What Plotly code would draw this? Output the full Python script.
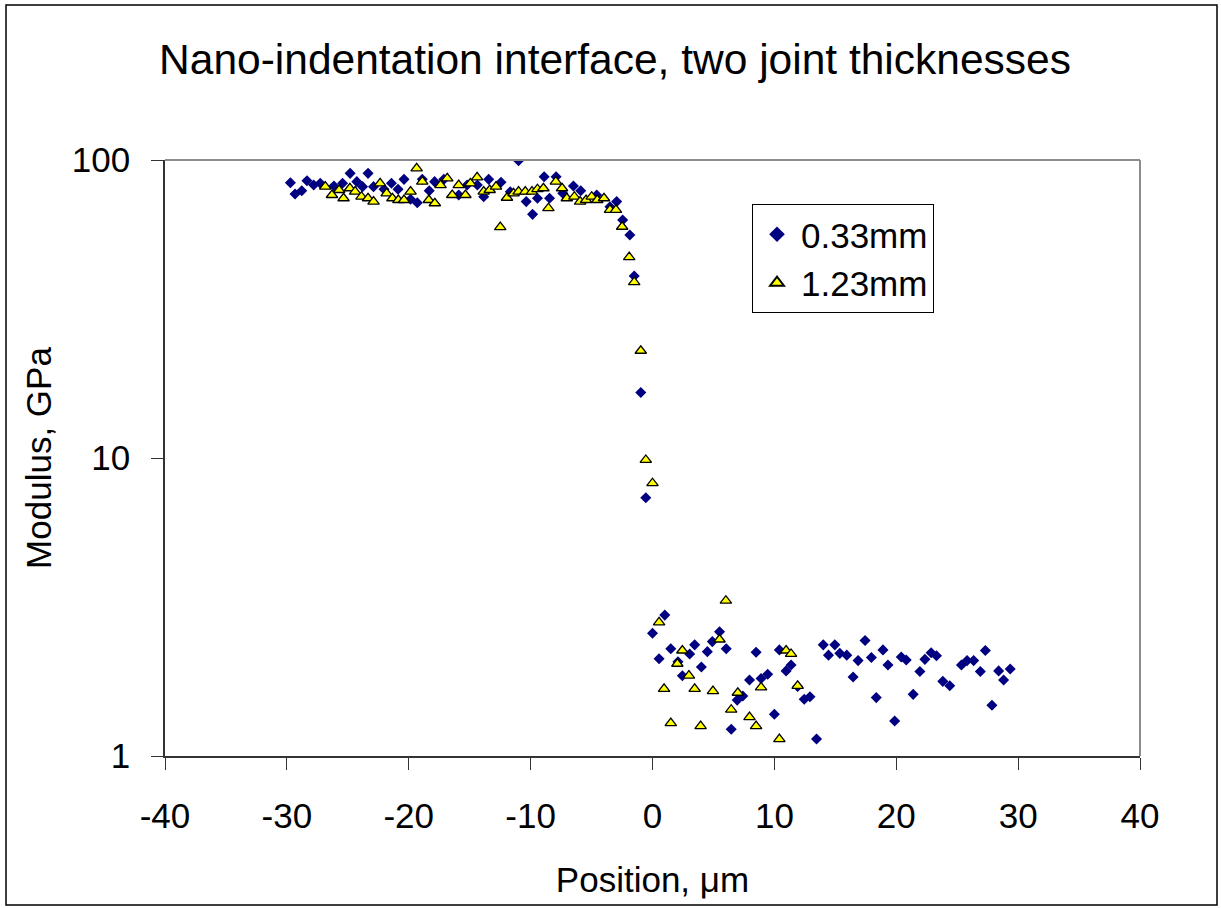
import plotly.graph_objects as go

# ---- data ----
x_033 = [-29.71,-29.33,-28.78,-28.35,-27.80,-27.26,-26.14,-25.43,-24.81,-24.26,
         -23.79,-23.34,-22.89,-22.03,-21.42,-20.88,-20.39,-19.85,-19.30,-18.89,
         -18.32,-17.88,-17.12,-15.90,-15.21,-14.37,-13.85,-13.44,-12.43,-11.67,
         -10.99,-10.36,-9.84,-9.44,-8.89,-8.45,-7.91,-7.36,-6.49,-5.89,
         -4.58,-3.49,-2.94,-2.45,-1.86,-1.50,-0.96,-0.55,
         0.00,0.54,1.01,1.50,2.09,2.45,3.05,3.46,4.01,4.50,
         4.91,5.50,6.05,6.46,6.95,7.41,7.96,8.50,8.91,9.45,
         10.00,10.41,10.96,11.37,11.91,12.45,12.92,13.46,14.01,14.44,
         14.96,15.37,15.94,16.46,16.87,17.44,17.96,18.36,18.91,19.32,
         19.87,20.41,20.82,21.39,21.94,22.35,22.86,23.30,23.82,24.39,
         25.35,25.81,26.35,26.90,27.31,27.85,28.40,28.81,29.35]
y_033 = [83.9,76.9,78.9,85.2,82.4,83.5,81.8,83.5,90.2,84.6,
         81.4,90.2,81.4,79.8,83.5,79.8,86.1,73.8,71.9,86.1,
         78.9,84.6,86.1,76.3,82.4,82.4,75.3,86.1,84.2,78.3,
         99.5,72.5,65.7,74.4,87.9,74.4,87.9,77.3,81.8,78.9,
         76.3,69.7,72.5,62.9,56.0,40.8,16.6,7.36,
         2.58,2.12,2.97,2.29,2.07,1.86,2.20,2.36,1.99,2.24,
         2.42,2.61,2.29,1.23,1.54,1.59,1.80,2.23,1.82,1.88,
         1.38,2.27,1.93,2.02,1.71,1.55,1.58,1.14,2.36,2.18,
         2.36,2.21,2.18,1.84,2.09,2.44,2.14,1.57,2.27,2.02,
         1.31,2.15,2.10,1.61,1.92,2.11,2.22,2.17,1.78,1.72,
         2.02,2.09,2.09,1.92,2.26,1.48,1.93,1.80,1.96]

x_123 = [-26.85,-26.30,-25.71,-25.35,-24.83,-24.40,-23.88,-23.34,-22.89,-22.35,
         -21.81,-21.34,-20.85,-20.39,-19.85,-19.35,-18.89,-18.35,-17.86,-17.39,
         -16.84,-16.43,-15.90,-15.35,-14.94,-14.39,-13.85,-13.36,-12.84,-12.49,
         -11.94,-11.40,-10.99,-10.44,-9.89,-9.44,-8.95,-8.54,-7.93,-7.42,
         -7.03,-6.41,-5.94,-5.45,-4.99,-4.53,-3.98,-3.49,-3.00,-2.49,
         -1.91,-1.50,-0.96,-0.55,0.00,
         0.54,0.95,1.50,2.04,2.45,2.99,3.46,3.95,4.96,5.50,
         6.02,6.46,7.00,7.96,8.50,8.91,10.41,10.96,11.37,11.91]
y_123 = [81.4,76.3,79.3,74.4,80.4,78.3,75.3,74.4,72.5,83.5,
         77.3,74.4,73.4,73.4,78.3,93.8,84.6,73.4,71.6,82.4,
         86.8,76.3,82.4,76.3,83.5,87.5,78.3,79.3,81.4,59.5,
         74.7,77.3,78.3,78.3,78.3,79.8,80.4,68.9,84.6,80.4,
         74.4,75.3,72.5,73.4,75.3,73.4,74.4,68.0,68.0,59.7,
         47.2,38.9,22.9,9.85,8.23,
         2.81,1.68,1.29,2.04,2.26,1.86,1.68,1.26,1.65,2.46,
         3.32,1.43,1.63,1.35,1.26,1.70,1.14,2.26,2.20,1.72]

series_names = ["0.33mm", "1.23mm"]
x_ticks = [-40, -30, -20, -10, 0, 10, 20, 30, 40]
y_ticks = [1, 10, 100]

FONT = "Liberation Sans, Arial, sans-serif"

fig = go.Figure()
fig.add_trace(go.Scatter(
    x=x_033, y=y_033, mode="markers", name=series_names[0],
    marker=dict(symbol="diamond", size=8.5, color="#000080",
                line=dict(width=0))))
fig.add_trace(go.Scatter(
    x=x_123, y=y_123, mode="markers", name=series_names[1],
    marker=dict(symbol="triangle-up", size=10, color="#FFFF00",
                line=dict(width=1.3, color="#000000"))))

W, H = 1221, 908
L, R, T, B = 165, 81, 160, 152
pw, ph = W - L - R, H - T - B

def px_x(p):
    return (p - L) / pw

def px_y(p):
    return (H - B - p) / ph

fig.update_layout(
    width=W, height=H,
    margin=dict(l=L, r=R, t=T, b=B),
    paper_bgcolor="white", plot_bgcolor="white",
    font=dict(family=FONT, size=35, color="black"),
    title=dict(text="Nano-indentation interface, two joint thicknesses",
               font=dict(size=42.5, family=FONT, color="black"),
               x=615 / W, xref="container", xanchor="center",
               y=1 - 59 / H, yref="container", yanchor="middle"),
    showlegend=True,
    legend=dict(x=px_x(752), y=px_y(204), xanchor="left", yanchor="top",
                bordercolor="black", borderwidth=1, bgcolor="white",
                font=dict(size=35, family=FONT),
                itemsizing="constant", itemwidth=38, tracegroupgap=0),
    xaxis=dict(range=[-40, 40], tickvals=x_ticks, ticktext=[str(v) for v in x_ticks],
               showgrid=False, zeroline=False,
               showline=True, linecolor="#333333", linewidth=1.5,
               ticks="outside", ticklen=12, tickcolor="#333333", tickwidth=1,
               tickfont=dict(size=35), ticklabelstandoff=16,
               title=dict(text="Position, μm", font=dict(size=35), standoff=34)),
    yaxis=dict(type="log", range=[0, 2], tickvals=y_ticks,
               ticktext=[str(v) for v in y_ticks],
               showgrid=False, zeroline=False,
               showline=True, linecolor="#333333", linewidth=1.5,
               ticks="outside", ticklen=12, tickcolor="#333333", tickwidth=1,
               tickfont=dict(size=35), ticklabelstandoff=14,
               title=dict(text="Modulus, GPa", font=dict(size=35), standoff=10)),
    shapes=[
        # gray top and right frame of the plot area
        dict(type="line", xref="paper", yref="paper", x0=0, x1=1, y0=1, y1=1,
             line=dict(color="#8c8c8c", width=2)),
        dict(type="line", xref="paper", yref="paper", x0=1, x1=1, y0=0, y1=1,
             line=dict(color="#8c8c8c", width=2)),
        # outer chart border
        dict(type="rect", xref="paper", yref="paper",
             x0=px_x(6), x1=px_x(1217), y0=px_y(905), y1=px_y(5),
             line=dict(color="black", width=1.5), fillcolor="rgba(0,0,0,0)"),
    ],
)

fig.write_html("out.html")
